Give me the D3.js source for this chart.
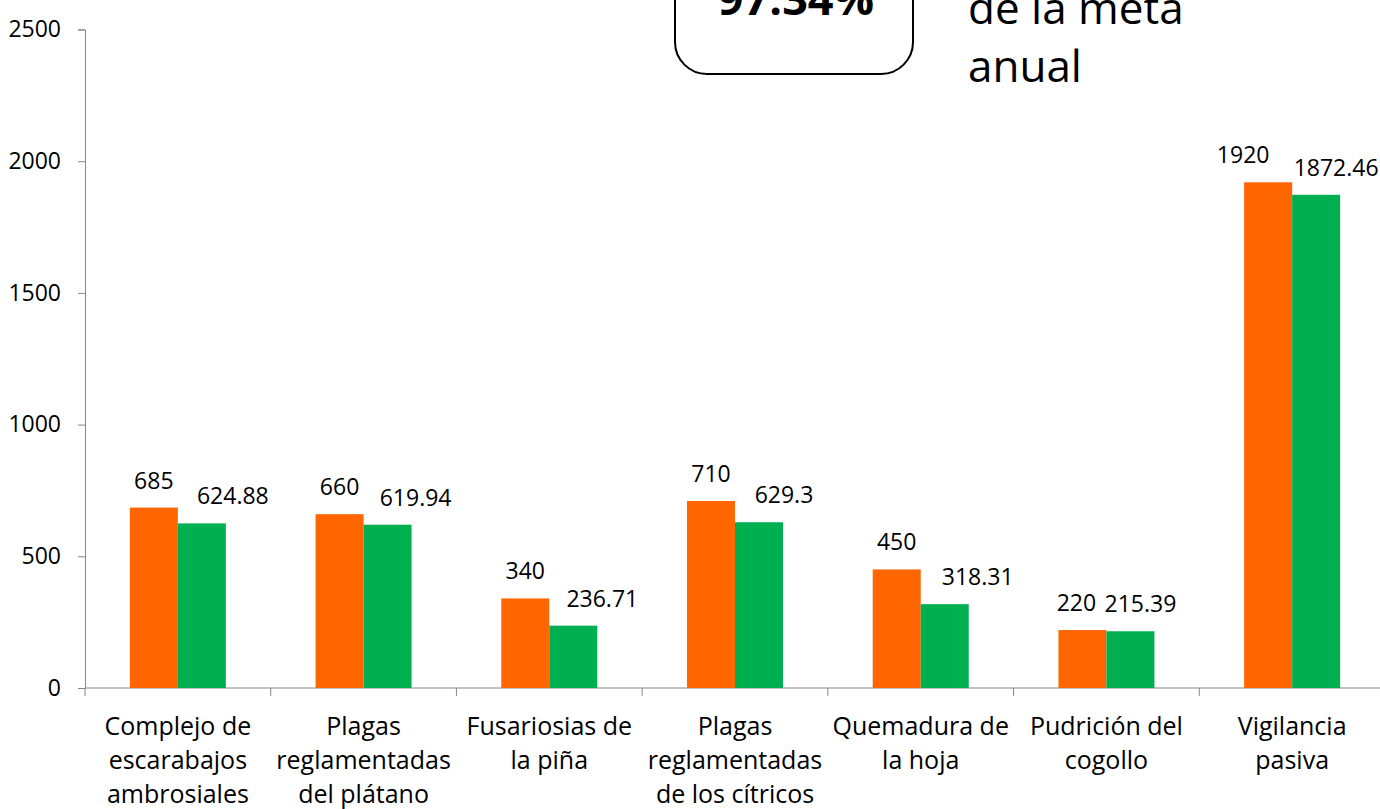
<!DOCTYPE html>
<html>
<head>
<meta charset="utf-8">
<script src="https://cdn.jsdelivr.net/npm/d3@7"></script>
<style>
  body { margin: 0; background: #fff; }
  svg { display: block; font-family: "Open Sans", sans-serif; }
</style>
</head>
<body>
<svg width="1380" height="809"></svg>
<script>
// data
var categories = [
  ["Complejo de", "escarabajos", "ambrosiales"],
  ["Plagas", "reglamentadas", "del plátano"],
  ["Fusariosias de", "la piña"],
  ["Plagas", "reglamentadas", "de los cítricos"],
  ["Quemadura de", "la hoja"],
  ["Pudrición del", "cogollo"],
  ["Vigilancia", "pasiva"]
];
var meta = [685, 660, 340, 710, 450, 220, 1920];
var real = [624.88, 619.94, 236.71, 629.3, 318.31, 215.39, 1872.46];
var metaText = ["685", "660", "340", "710", "450", "220", "1920"];
var realText = ["624.88", "619.94", "236.71", "629.3", "318.31", "215.39", "1872.46"];
var yTicks = [0, 500, 1000, 1500, 2000, 2500];
var boxValue = "97.34%";
var boxNote = ["de la meta", "anual"];

// label nudges (px) as placed in the original
var metaDx = [0, 0, 0, 0, 0, -6, -25];
var realDx = [31, 28, 29, 25, 33, 10, 20];

var svg = d3.select("svg");
var mLeft = 85, mRight = 1385, mTop = 29.5, mBottom = 688;
var colors = ["#FF6600", "#00B050"];

var x = d3.scaleBand()
    .domain(d3.range(categories.length))
    .range([mLeft, mRight])
    .paddingInner(0.483)
    .paddingOuter(0.2415);

var y = d3.scaleLinear().domain([0, 2500]).range([mBottom, mTop]);

// y axis
var yAxis = svg.append("g")
    .attr("transform", "translate(" + mLeft + ",0)")
    .call(d3.axisLeft(y).tickValues(yTicks).tickSize(7).tickPadding(17).tickFormat(d3.format("d")));
yAxis.selectAll("path, line").attr("stroke", "#868686");
yAxis.selectAll("text").attr("font-size", 23).attr("fill", "#000").attr("font-family", "Open Sans");

// x axis with ticks at category boundaries
var xg = svg.append("g");
xg.append("line")
    .attr("x1", mLeft).attr("x2", mRight)
    .attr("y1", mBottom).attr("y2", mBottom)
    .attr("stroke", "#868686");
xg.selectAll(".tk")
    .data(d3.range(categories.length + 1))
    .enter().append("line")
    .attr("x1", function(i) { return mLeft + i * x.step(); })
    .attr("x2", function(i) { return mLeft + i * x.step(); })
    .attr("y1", mBottom).attr("y2", mBottom + 8)
    .attr("stroke", "#868686");

// bars
var bw = x.bandwidth() / 2;
var groups = svg.append("g").selectAll("g")
    .data(categories)
    .enter().append("g")
    .attr("transform", function(d, i) { return "translate(" + x(i) + ",0)"; });

groups.append("rect")
    .attr("x", 0).attr("width", bw)
    .attr("y", function(d, i) { return y(meta[i]); })
    .attr("height", function(d, i) { return mBottom - y(meta[i]); })
    .attr("fill", colors[0]);

groups.append("rect")
    .attr("x", bw).attr("width", bw)
    .attr("y", function(d, i) { return y(real[i]); })
    .attr("height", function(d, i) { return mBottom - y(real[i]); })
    .attr("fill", colors[1]);

groups.append("text")
    .attr("x", function(d, i) { return bw / 2 + metaDx[i]; })
    .attr("y", function(d, i) { return y(meta[i]) - 19; })
    .attr("text-anchor", "middle")
    .attr("font-size", 23)
    .text(function(d, i) { return metaText[i]; });

groups.append("text")
    .attr("x", function(d, i) { return bw * 1.5 + realDx[i]; })
    .attr("y", function(d, i) { return y(real[i]) - 19; })
    .attr("text-anchor", "middle")
    .attr("font-size", 23)
    .text(function(d, i) { return realText[i]; });

// category labels
groups.append("text")
    .attr("text-anchor", "middle")
    .attr("font-size", 25)
    .selectAll("tspan")
    .data(function(d) { return d; })
    .enter().append("tspan")
    .attr("x", bw)
    .attr("y", function(d, j) { return 735 + j * 34; })
    .text(function(d) { return d; });

// annotation box at top
svg.append("rect")
    .attr("x", 675).attr("y", -60)
    .attr("width", 238).attr("height", 134)
    .attr("rx", 32)
    .attr("fill", "#fff")
    .attr("stroke", "#000")
    .attr("stroke-width", 2);
svg.append("text")
    .attr("x", 796).attr("y", 15)
    .attr("text-anchor", "middle")
    .attr("font-size", 45)
    .attr("font-weight", "bold")
    .text(boxValue);

svg.append("text")
    .attr("font-size", 44)
    .selectAll("tspan")
    .data(boxNote)
    .enter().append("tspan")
    .attr("x", 968)
    .attr("y", function(d, j) { return 24 + j * 58; })
    .text(function(d) { return d; });
</script>
</body>
</html>
